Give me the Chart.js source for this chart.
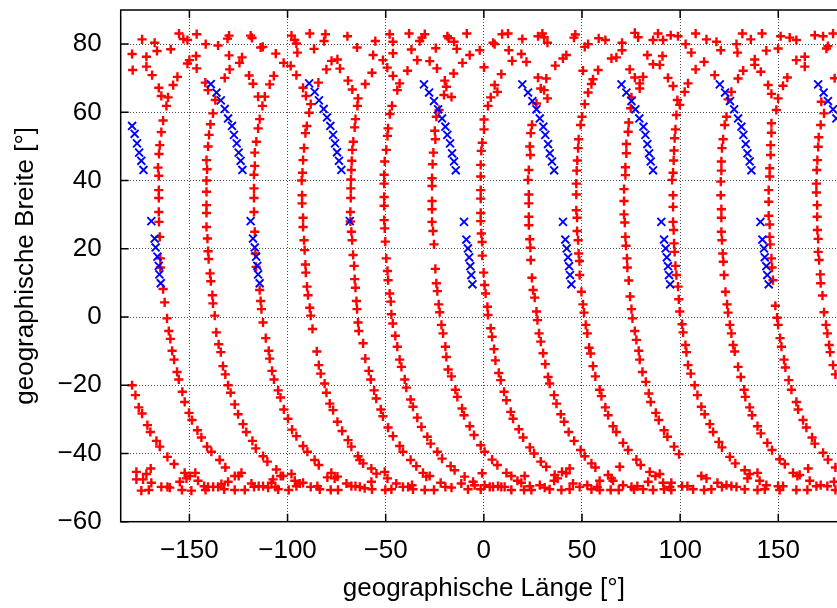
<!DOCTYPE html>
<html lang="de">
<head>
<meta charset="UTF-8">
<title>Bodenspur</title>
<script src="https://cdn.jsdelivr.net/npm/chart.js"></script>
<style>
    html, body { margin: 0; padding: 0; overflow: hidden; background: #fff; }
    #wrap { width: 837px; height: 608px; overflow: hidden; }
    canvas { display: block; }
</style>
</head>
<body>
<div id="wrap"><canvas id="track" width="870" height="608"></canvas></div>
<script>
// Achsen
const xTicks = [-150, -100, -50, 0, 50, 100, 150];
const yTicks = [-60, -40, -20, 0, 20, 40, 60, 80];

// rote Messpunkte [Länge, Breite], nördlicher Teil (40° bis 90°)
const redNorthW = [
  [-174.1,81.4],[-167.7,80.4],[-155.3,83.1],[-153.1,81.5],[-151.0,81.2],[-146.3,82.9],[-141.7,80.0],[-135.4,79.6],
  [-129.8,82.5],[-130.6,81.6],[-118.8,82.5],[-118.1,81.8],[-113.7,79.0],[-112.6,79.2],
  [-179.2,77.1],[-171.9,76.3],[-166.5,78.0],[-159.5,78.5],[-146.6,76.5],[-150.0,75.3],[-151.0,74.3],[-129.8,76.7],
  [-123.2,76.1],[-124.5,74.5],[-106.0,77.2],[-102.0,74.5],
  [-178.9,72.4],[-171.9,73.4],[-169.0,70.9],[-156.1,70.4],[-158.3,68.0],[-165.6,67.2],[-164.3,64.8],[-160.9,64.4],[-161.7,61.9],
  [-146.3,72.9],[-129.5,72.6],[-132.0,70.1],[-141.9,68.7],[-119.6,70.8],[-117.6,68.4],[-107.0,70.7],[-109.1,68.2],
  [-115.0,64.6],[-111.6,64.6],[-112.8,61.9],
  [-98.0,82.5],[-96.4,81.2],[-95.5,80.2],[-88.7,83.1],[-80.7,82.9],[-81.4,80.9],[-69.5,82.3],[-64.6,79.0],[-95.0,77.5],
  [-86.5,78.6],[-98.4,73.6],[-95.5,70.9],[-74.6,75.5],[-77.6,75.1],[-80.2,72.6],[-73.3,72.8],[-69.2,69.3],[-67.0,66.7],
  [-84.3,68.7],[-92.1,67.2],[-90.6,64.8],[-88.2,62.4],[-64.1,64.1],[-64.4,61.9],
  [-140.5,66.5],[-136.8,63.6],[-138.0,59.7],[-139.3,56.5],[-140.0,53.4],[-140.5,50.0],[-141.3,46.0],[-141.0,43.3],[-141.3,40.0],
  [-163.4,57.6],[-164.3,54.2],[-165.1,50.4],[-165.5,47.8],[-166.0,43.8],[-165.6,41.4],
  [-114.2,58.0],[-115.0,55.3],[-115.9,51.4],[-116.7,48.2],[-116.7,44.3],[-117.1,41.7],
  [-89.0,59.9],[-90.2,56.0],[-90.9,53.9],[-91.6,49.5],[-92.1,46.0],[-92.4,42.3],[-92.8,40.0],
  [-65.4,58.0],[-65.8,55.6],[-66.5,51.4],[-67.0,49.0],[-67.3,45.8],[-67.5,43.1],[-67.7,40.3]
];
const redNorthC = [
  [-55.3,80.9],[-48.0,82.9],[-46.3,80.7],[-38.1,83.1],[-30.1,82.9],[-31.5,81.9],[-32.7,80.9],[-18.6,82.3],[-17.9,81.7],
  [-15.2,80.7],[-13.8,78.6],[-8.7,83.1],[-24.5,78.8],[-36.9,78.4],[-46.3,77.3],[-56.4,76.8],[-51.4,75.3],[-49.2,73.1],
  [-33.9,75.3],[-27.6,75.0],[-23.9,72.9],[-7.2,76.8],[-10.9,74.5],[-15.4,71.4],[-2.1,78.2],[0.1,73.2],
  [-38.9,72.2],[-46.3,70.7],[-57.0,71.6],[-60.4,68.3],[-42.9,68.5],[-44.1,66.5],[-46.8,61.9],[-47.9,59.5],
  [-19.9,69.3],[-19.1,67.5],[-20.3,65.1],[-16.5,64.5],[-22.8,60.7],[-24.2,58.7],[-25.0,54.6],[-24.7,52.1],[-25.7,48.2],
  [-26.1,44.8],[-26.4,40.7],[-48.8,55.3],[-49.1,53.1],[-49.7,49.0],[-50.5,45.6],[-50.8,41.7],
  [4.7,80.4],[5.5,80.0],[9.3,82.9],[12.3,83.1],[19.6,81.5],[27.6,82.3],[29.8,83.1],[30.7,82.0],[32.4,80.4],[12.7,78.2],
  [19.1,77.1],[14.4,75.1],[21.7,74.8],[42.0,76.8],[40.3,75.8],[36.4,73.7],[46.6,82.8],[45.9,81.9],[53.1,80.0],[51.4,79.2],[58.5,81.7],
  [8.9,71.2],[5.5,68.0],[6.9,66.0],[3.5,64.4],[2.1,61.9],[0.1,57.9],[0.1,55.0],[-0.8,51.1],[-1.3,48.7],[-1.6,44.6],[-1.6,41.2],
  [27.6,70.2],[31.8,69.9],[29.0,67.0],[30.7,66.5],[32.4,64.1],[26.8,62.6],[24.5,56.3],[23.9,53.9],[23.4,50.0],[23.7,47.5],
  [22.9,43.1],[22.5,40.2],
  [50.5,72.2],[58.2,72.4],[55.6,69.7],[54.8,68.3],[53.1,65.8],[51.4,62.4],[50.0,58.7],[49.3,56.3],[48.3,52.1],[48.0,49.5],
  [47.6,45.9],[47.3,42.9]
];
const redNorthE = [
  [61.9,81.2],[70.4,80.4],[70.4,78.2],[76.9,83.3],[78.6,82.0],[86.2,81.2],[88.7,83.1],[91.3,81.2],[95.2,82.6],[98.9,82.3],
  [102.8,80.0],[107.9,83.1],[113.4,81.4],[118.5,80.7],[120.7,78.2],[128.7,80.0],[131.7,83.1],[136.0,81.4],[141.7,83.1],
  [143.9,78.1],[149.9,78.7],[151.2,82.3],[155.8,81.9],[159.2,81.2],[168.6,82.6],[172.8,82.3],[177.9,83.1],[175.3,79.4],[174.5,78.7],
  [65.0,75.8],[67.5,76.1],[83.3,76.8],[86.2,74.1],[89.6,73.9],[91.0,76.5],[74.3,72.6],[76.9,70.2],[81.1,70.4],[79.4,68.5],
  [79.4,67.0],[93.8,70.1],[96.4,67.7],[98.6,63.6],[99.8,62.2],[105.7,77.5],[112.2,74.8],[107.9,72.6],[104.0,68.5],[102.3,66.0],
  [117.6,70.9],[129.2,77.5],[138.0,75.5],[138.0,73.9],[132.1,72.2],[129.5,69.9],[141.1,71.9],[144.8,68.0],[146.5,65.4],
  [149.9,64.1],[149.0,60.7],[159.2,75.3],[163.5,76.3],[163.5,73.4],[154.6,70.2],[152.4,67.8],[178.7,70.0],
  [126.1,66.0],[124.4,63.8],[123.6,58.7],[122.7,56.3],[121.9,52.1],[121.3,49.5],[121.0,45.6],[121.0,42.9],[120.7,39.7],
  [75.2,64.4],[74.8,61.2],[73.8,57.0],[73.5,54.3],[72.6,50.7],[72.6,48.0],[72.1,43.9],[72.1,41.6],
  [98.1,59.2],[97.6,55.0],[97.2,52.4],[96.9,48.8],[96.7,45.9],[96.4,42.3],[95.9,40.2],
  [146.5,56.8],[146.5,54.0],[146.1,50.4],[146.1,47.5],[145.6,43.6],[145.6,41.2],
  [171.9,63.1],[173.3,59.7],[171.6,56.3],[170.6,52.7],[170.3,49.9],[169.9,46.0],[169.6,43.1]
];

// rote Messpunkte, mittlerer Teil (-10° bis 40°)
const redMidW = [
  [-165.6,37.2],[-165.6,34.9],[-165.6,30.8],[-165.5,27.9],[-165.1,23.5],[-164.8,17.2],[-164.8,14.5],[-163.4,8.2],
  [-162.6,4.3],[-161.4,-0.4],[-160.5,-4.1],[-159.7,-6.4],[-158.8,-9.9],
  [-141.3,36.7],[-141.3,32.8],[-141.3,30.5],[-141.3,26.4],[-140.8,23.0],[-140.5,19.3],[-140.2,17.0],[-139.5,12.8],
  [-139.1,10.5],[-138.3,6.4],[-138.0,4.0],[-137.1,0.4],[-136.3,-4.5],[-135.1,-8.0],[-134.0,-10.3],
  [-117.1,37.7],[-117.1,34.9],[-117.1,30.8],[-116.7,25.0],[-116.4,18.6],[-116.0,14.7],[-114.2,7.9],[-113.7,4.7],
  [-113.3,2.3],[-112.5,-1.6],[-111.1,-6.2],[-109.6,-9.9],
  [-92.6,35.7],[-92.6,33.3],[-92.1,29.1],[-92.1,26.4],[-91.6,22.5],[-91.3,19.6],[-90.9,15.4],[-90.7,13.0],[-90.1,8.9],
  [-89.6,6.4],[-88.7,2.7],[-88.2,0.4],[-87.3,-3.5],[-85.1,-10.1],
  [-67.8,37.7],[-67.8,34.9],[-68.0,30.8],[-68.0,28.0],[-67.5,25.0],[-67.1,22.5],[-66.6,18.2],[-66.1,15.0],[-65.8,11.1],
  [-65.4,8.6],[-64.9,4.7],[-64.6,2.3],[-64.1,-1.6],[-63.7,-4.1],[-61.5,-7.7]
];
const redMidC = [
  [-50.8,39.1],[-50.8,35.2],[-50.8,32.6],[-50.8,28.4],[-50.5,26.0],[-50.2,22.1],[-49.7,17.2],[-49.1,13.5],[-48.8,10.8],
  [-48.0,6.9],[-47.4,4.5],[-47.1,0.8],[-46.4,-1.9],[-45.1,-5.5],[-44.1,-8.7],
  [-26.4,38.4],[-26.4,34.0],[-26.4,31.6],[-26.4,27.9],[-25.9,25.2],[-25.4,21.3],[-24.7,14.1],[-24.2,9.9],[-23.7,7.6],
  [-23.0,3.7],[-22.5,1.4],[-21.6,-2.3],[-20.8,-4.8],[-19.6,-8.7],
  [-1.6,37.2],[-1.6,34.7],[-1.6,30.5],[-1.6,28.1],[-1.3,24.5],[-0.9,22.0],[-0.8,18.0],[-0.1,13.0],[0.4,9.4],[0.9,6.9],
  [1.8,3.0],[2.1,0.6],[3.5,-3.3],[4.2,-5.8],[5.2,-9.4],
  [22.9,35.9],[22.9,33.3],[22.9,29.4],[22.9,26.9],[23.4,22.8],[23.7,20.3],[23.9,16.7],[24.5,11.5],[25.1,7.9],[25.9,5.7],
  [26.8,1.6],[27.3,-0.9],[28.1,-4.8],[29.0,-7.2],[30.2,-10.6],
  [47.1,39.1],[47.1,35.9],[47.1,31.3],[47.5,29.1],[47.5,25.2],[48.0,22.5],[48.3,18.6],[48.7,16.4],[48.8,12.3],[49.7,7.4],
  [50.5,3.7],[51.0,1.3],[51.9,-2.3],[52.7,-4.8],[53.6,-9.0]
];
const redMidE = [
  [71.4,37.5],[71.4,34.0],[71.4,30.1],[71.8,27.7],[72.1,23.5],[72.4,20.9],[72.9,17.2],[73.1,14.5],[73.8,10.7],[74.5,6.0],
  [75.2,2.3],[75.7,-0.4],[76.9,-4.1],[77.7,-6.7],[78.9,-9.9],
  [96.4,35.7],[96.4,32.3],[96.4,27.9],[96.7,25.5],[96.9,21.6],[97.2,19.1],[97.6,15.0],[98.1,12.3],[98.9,8.9],[99.3,5.2],[99.8,1.6],
  [101.0,-2.1],[101.5,-4.5],[102.7,-8.2],[103.2,-10.3],
  [120.7,35.7],[121.0,31.6],[121.0,29.1],[121.0,25.0],[121.3,22.5],[121.7,18.6],[122.0,16.2],[122.4,12.3],[123.1,7.4],
  [123.9,3.7],[124.4,1.3],[125.3,-2.3],[126.1,-4.8],[127.0,-8.2],[127.8,-10.1],
  [145.1,37.2],[145.1,33.8],[145.1,29.7],[145.6,27.1],[145.6,23.5],[145.9,21.3],[146.5,17.2],[146.8,14.5],[147.3,10.8],
  [148.5,3.3],[149.4,-0.2],[149.9,-2.3],[150.9,-6.2],[151.6,-8.7],
  [169.4,39.1],[169.4,36.5],[169.8,32.8],[169.8,29.4],[169.9,25.5],[170.3,22.9],[170.3,19.1],[170.8,16.7],[171.4,12.5],
  [171.6,9.9],[172.5,6.3],[173.3,1.4],[174.3,-2.3],[175.0,-4.8],[175.9,-8.2],[176.4,-10.3]
];

// rote Messpunkte, südlicher Teil (-52° bis -10°)
const redSouthW = [
  [-179.2,-20.0],[-177.5,-22.9],[-175.8,-26.5],[-174.1,-28.3],[-171.4,-31.7],[-169.9,-33.7],[-166.8,-36.3],[-165.1,-38.0],
  [-161.2,-41.0],[-157.8,-43.1],
  [-157.8,-12.5],[-156.3,-16.1],[-155.4,-18.3],[-153.6,-21.9],[-152.4,-24.9],[-150.2,-28.1],[-148.7,-30.2],[-145.9,-33.2],
  [-143.9,-35.3],[-141.0,-38.0],[-138.8,-39.5],[-134.6,-41.9],[-131.7,-44.1],
  [-132.9,-14.4],[-131.7,-16.8],[-130.3,-20.0],[-129.0,-22.2],[-126.9,-25.6],[-125.2,-28.5],[-122.7,-31.4],[-121.0,-33.7],
  [-117.9,-36.3],[-116.2,-38.5],[-112.5,-40.8],[-110.3,-42.4],[-105.7,-44.7],[-103.5,-46.6],
  [-109.1,-12.2],[-107.9,-15.8],[-106.9,-18.3],[-104.8,-21.5],[-103.6,-23.6],[-101.9,-27.1],[-99.8,-29.8],[-97.7,-33.0],
  [-95.5,-34.9],[-92.1,-37.8],[-89.9,-39.5],[-86.2,-41.9],[-84.1,-43.4],
  [-84.1,-14.1],[-83.1,-16.6],[-81.1,-19.5],[-80.2,-22.2],[-78.5,-25.4],[-76.8,-27.3],[-74.6,-30.7],[-72.2,-33.4],
  [-69.2,-36.1],[-67.5,-38.0],[-64.1,-40.8],[-63.2,-41.9],[-61.5,-42.9]
];
const redBandW = [
  [-177.0,-45.4],[-177.0,-47.6],[-173.6,-47.6],[-171.9,-46.0],[-169.7,-44.4],[-169.4,-48.6],[-174.5,-50.9],[-170.7,-50.7],
  [-164.3,-49.8],[-161.2,-49.8],[-160.0,-50.0],[-154.9,-48.3],[-153.8,-50.7],[-152.4,-45.7],[-151.5,-47.3],[-149.8,-46.6],
  [-149.0,-50.9],[-147.0,-45.7],[-145.6,-48.0],[-142.5,-49.6],[-141.8,-50.7],[-140.5,-49.8],[-137.9,-49.8],[-135.4,-49.8],
  [-133.7,-49.0],[-132.3,-50.5],[-130.3,-48.3],[-126.9,-50.7],[-126.9,-46.6],[-124.9,-46.6],[-123.5,-45.7],[-121.8,-50.7],
  [-118.4,-48.8],[-117.1,-49.8],[-114.7,-49.6],[-112.5,-49.6],[-109.9,-50.0],[-108.2,-48.6],[-107.4,-47.6],[-106.2,-49.8],
  [-104.8,-50.5],[-102.3,-46.6],[-99.4,-50.7],[-98.0,-46.0],[-96.3,-48.0],[-95.5,-49.6],[-93.8,-48.8],[-92.1,-48.6],
  [-88.2,-49.8],[-84.8,-49.6],[-83.6,-50.5],[-79.7,-47.0],[-77.7,-45.7],[-76.0,-47.3],[-74.6,-46.8],[-78.0,-50.7],
  [-74.3,-50.7],[-70.0,-48.8],[-67.5,-49.6],[-65.4,-49.6],[-63.2,-49.8]
];
const redSouthC = [
  [-60.4,-12.2],[-58.6,-15.8],[-57.6,-18.3],[-55.9,-21.5],[-54.8,-23.9],[-52.5,-27.1],[-51.4,-29.1],[-48.8,-32.4],
  [-46.3,-34.9],[-42.9,-37.8],[-41.2,-39.5],[-37.3,-41.9],[-34.4,-43.7],
  [-42.9,-12.5],[-42.0,-14.6],[-40.3,-18.3],[-39.5,-20.7],[-37.3,-24.2],[-36.1,-26.3],[-33.9,-29.5],[-31.8,-32.2],
  [-28.8,-35.1],[-27.1,-37.1],[-23.7,-39.5],[-21.3,-41.5],[-16.9,-43.7],[-14.9,-44.9],
  [-19.1,-11.7],[-18.2,-15.4],[-16.5,-17.4],[-14.5,-21.3],[-13.5,-23.4],[-11.1,-26.8],[-10.1,-28.8],[-7.2,-32.0],
  [-5.0,-34.6],[-1.6,-37.6],[0.4,-39.5],[4.2,-41.8],[6.9,-43.4],[11.5,-45.7],
  [5.9,-12.7],[7.6,-16.4],[8.6,-18.5],[10.3,-21.9],[11.5,-24.4],[13.7,-27.8],[14.9,-29.8],[17.8,-32.9],[20.0,-35.3],
  [23.4,-38.2],[25.6,-40.0],[29.0,-42.4],[31.8,-43.9],
  [31.3,-13.8],[32.7,-17.6],[33.5,-19.5],[35.8,-22.9],[37.0,-25.4],[39.2,-28.5],[40.9,-30.7],[43.2,-33.7],[46.0,-36.3],
  [49.3,-39.0],[51.4,-40.8],[54.8,-42.9],[56.8,-44.1],
  [54.4,-10.7],[55.6,-14.4],[56.8,-17.4]
];
const redBandC = [
  [-57.3,-44.4],[-54.7,-45.9],[-57.3,-48.3],[-60.7,-50.2],[-57.0,-50.5],[-50.5,-45.4],[-49.1,-47.3],[-50.2,-50.7],
  [-47.1,-50.5],[-44.6,-48.8],[-41.2,-49.8],[-38.6,-49.8],[-36.6,-49.3],[-36.1,-50.5],[-31.0,-45.7],[-29.3,-46.8],
  [-27.6,-46.6],[-30.1,-50.7],[-25.4,-50.7],[-22.0,-48.6],[-19.6,-49.8],[-16.5,-50.0],[-11.5,-48.8],[-9.8,-46.8],
  [-8.1,-50.5],[-5.5,-48.3],[-4.7,-49.3],[-0.9,-45.8],[-1.6,-50.5],[0.4,-49.3],[3.0,-49.8],[4.7,-49.8],[7.2,-49.6],
  [8.9,-49.8],[10.6,-49.8],[14.0,-50.7],[14.0,-46.6],[17.1,-48.0],[19.1,-48.6],[20.8,-46.6],[20.5,-50.7],[23.4,-49.6],
  [24.2,-50.7],[28.5,-49.3],[31.0,-50.0],[33.5,-50.5],[36.1,-46.3],[37.5,-47.3],[39.8,-45.4],[42.0,-45.8],[43.7,-44.4],
  [35.8,-48.0],[39.5,-50.7],[43.7,-50.5],[45.4,-48.8],[48.8,-49.8],[52.7,-49.3],[54.8,-50.5],[57.8,-49.8]
];
const redSouthE = [
  [59.0,-21.3],[59.9,-23.2],[61.9,-26.5],[63.3,-28.8],[65.8,-32.0],[67.5,-33.7],[70.9,-36.9],[73.5,-39.0],[77.7,-41.8],[79.9,-43.4],
  [79.4,-12.5],[80.8,-16.1],[82.5,-19.0],[84.0,-22.4],[85.0,-24.9],[87.6,-28.1],[89.1,-30.2],[91.8,-33.2],[93.5,-35.1],
  [96.9,-38.0],[99.4,-40.2],
  [104.0,-14.1],[105.4,-16.6],[107.4,-20.0],[108.8,-22.9],[110.8,-26.3],[112.5,-28.5],[115.1,-31.4],[116.8,-33.7],
  [119.7,-36.6],[121.3,-38.2],[125.3,-41.0],[128.1,-42.9],[132.9,-44.9],
  [129.5,-14.6],[130.9,-17.6],[132.6,-21.3],[133.2,-23.4],[135.4,-26.5],[136.6,-28.8],[139.4,-32.0],[141.1,-34.1],
  [144.4,-36.9],[146.8,-39.0],[150.7,-41.7],[153.3,-43.1],
  [152.9,-12.5],[153.6,-14.8],[155.3,-18.5],[156.7,-21.3],[159.2,-24.9],[160.1,-27.1],[162.6,-30.2],[164.3,-32.4],
  [167.2,-35.3],[168.6,-37.1],[172.8,-39.8],[175.3,-41.8],[179.1,-44.1],
  [177.9,-14.1],[179.1,-16.8]
];
const redBandE = [
  [59.0,-48.0],[59.0,-50.7],[63.3,-46.3],[65.0,-47.3],[65.8,-48.0],[64.6,-50.7],[69.2,-43.9],[70.9,-49.3],[68.7,-50.7],
  [75.2,-49.8],[78.2,-49.6],[76.5,-50.5],[81.1,-50.5],[83.7,-48.3],[84.5,-45.4],[86.2,-50.7],[87.4,-46.6],[89.6,-46.0],
  [91.3,-48.6],[91.8,-50.5],[94.7,-49.8],[95.5,-50.7],[95.5,-48.6],[101.0,-49.6],[103.7,-49.6],[106.6,-50.5],[110.8,-46.6],
  [113.4,-47.3],[112.2,-50.7],[115.9,-50.5],[119.0,-48.6],[121.3,-49.8],[123.6,-49.3],[126.1,-49.6],[128.7,-49.8],
  [132.9,-50.5],[135.4,-46.0],[134.3,-47.3],[139.4,-45.7],[140.5,-48.0],[139.4,-50.7],[143.1,-50.5],[143.9,-49.3],
  [149.9,-49.6],[150.7,-50.7],[152.4,-49.6],[157.5,-45.7],[159.7,-46.6],[160.9,-46.3],[159.2,-50.7],[165.2,-44.4],
  [164.8,-50.7],[166.0,-48.0],[169.4,-49.6],[171.6,-49.3],[175.0,-49.6],[178.4,-48.3],[179.1,-50.7]
];

// blaue Messpunkte
const blueNorth = [
  [-179.2,56.0],[-177.9,53.7],[-176.7,50.9],[-175.6,48.2],[-174.5,45.8],[-173.4,43.1],
  [-139.1,68.3],[-136.2,65.8],[-134.0,63.5],[-132.0,61.0],[-130.3,58.2],[-128.3,56.0],[-127.3,53.4],[-125.9,50.9],
  [-124.9,48.2],[-123.9,45.8],[-123.0,43.1],
  [-89.0,68.5],[-86.2,66.0],[-84.0,63.5],[-81.6,61.0],[-79.9,58.5],[-78.2,56.0],[-76.8,53.4],[-75.8,50.9],[-74.8,48.3],
  [-73.8,45.8],[-72.6,43.1],
  [-30.5,68.2],[-27.9,65.8],[-25.4,63.3],[-23.3,60.9],[-21.3,58.2],[-19.6,55.8],[-18.6,53.4],[-17.2,50.9],[-16.2,48.0],
  [-15.2,45.6],[-14.3,43.0],
  [19.6,68.2],[22.5,65.8],[24.7,63.3],[26.8,60.9],[28.5,58.2],[30.3,55.8],[31.3,53.4],[32.7,50.7],[33.6,48.0],[34.7,45.6],[35.8,43.0],
  [70.1,68.2],[72.6,65.8],[75.2,63.3],[77.2,60.9],[79.2,58.2],[81.3,55.8],[82.3,53.4],[83.3,50.7],[84.2,48.0],[85.0,45.6],[86.2,43.0],
  [120.2,68.2],[122.9,65.8],[125.4,63.3],[127.5,60.9],[129.5,58.2],[131.2,55.8],[132.2,53.4],[133.4,50.7],[134.3,48.0],
  [135.4,45.6],[136.3,43.0],
  [170.3,68.2],[173.1,65.8],[175.3,63.3],[177.9,60.9],[179.6,58.2]
];
const blueSouth = [
  [-169.4,28.1],[-167.7,23.0],[-167.2,20.4],[-166.3,17.7],[-165.6,15.0],[-165.3,12.5],[-164.6,9.9],
  [-118.8,28.1],[-117.6,23.0],[-116.7,20.4],[-116.0,17.7],[-115.4,15.0],[-115.0,12.5],[-114.2,9.9],
  [-68.3,28.1],
  [-10.1,27.9],[-8.9,22.7],[-8.1,20.1],[-7.5,17.5],[-6.9,14.9],[-6.4,12.3],[-5.8,9.6],
  [40.3,27.9],[41.5,22.7],[42.2,20.1],[42.9,17.5],[43.4,14.9],[43.9,12.3],[44.6,9.6],
  [90.4,27.9],[91.8,22.7],[92.6,20.1],[93.2,17.5],[93.8,14.9],[94.3,12.3],[94.9,9.6],
  [140.9,27.9],[141.9,22.7],[142.7,20.1],[143.1,17.5],[143.9,14.9],[144.4,12.3],[145.1,9.6]
];

const FONT = { family: '"Liberation Sans", Arial, Helvetica, sans-serif', size: 26 };

function pts(list) {
    return list.map(([x, y]) => ({ x, y }));
}

function redSet(list) {
    return {
        data: pts(list),
        pointStyle: 'cross',
        pointRadius: 4.6,
        pointBorderWidth: 2.4,
        borderColor: '#ff0000',
        backgroundColor: '#ff0000',
        showLine: false
    };
}

function blueSet(list) {
    return {
        data: pts(list),
        pointStyle: 'crossRot',
        pointRadius: 5.6,
        pointBorderWidth: 1.9,
        borderColor: '#0000ff',
        backgroundColor: '#0000ff',
        showLine: false
    };
}

function minus(v) {
    return v < 0 ? '\u2212' + Math.abs(v) : String(v);
}

// Rahmen mit nach innen zeigenden Teilstrichen
const frame = {
    id: 'frame',
    afterDatasetsDraw(chart) {
        const { ctx, chartArea: a, scales: { x, y } } = chart;
        ctx.save();
        ctx.strokeStyle = '#000';
        ctx.lineWidth = 1.5;
        ctx.strokeRect(a.left, a.top, a.right - a.left, a.bottom - a.top);
        ctx.beginPath();
        x.ticks.forEach(t => {
            const px = x.getPixelForValue(t.value);
            ctx.moveTo(px, a.bottom); ctx.lineTo(px, a.bottom - 8);
            ctx.moveTo(px, a.top); ctx.lineTo(px, a.top + 8);
        });
        y.ticks.forEach(t => {
            const py = y.getPixelForValue(t.value);
            ctx.moveTo(a.left, py); ctx.lineTo(a.left + 8, py);
            ctx.moveTo(a.right, py); ctx.lineTo(a.right - 8, py);
        });
        ctx.stroke();
        ctx.restore();
    }
};

new Chart(document.getElementById('track'), {
    type: 'scatter',
    data: {
        datasets: [
            blueSet(blueNorth), blueSet(blueSouth),
            redSet(redNorthW), redSet(redNorthC), redSet(redNorthE),
            redSet(redMidW), redSet(redMidC), redSet(redMidE),
            redSet(redSouthW), redSet(redSouthC), redSet(redSouthE),
            redSet(redBandW), redSet(redBandC), redSet(redBandE)
        ]
    },
    options: {
        responsive: false,
        animation: false,
        events: [],
        layout: { padding: { left: 0, right: 23, top: 10, bottom: 0 } },
        plugins: { legend: { display: false }, tooltip: { enabled: false } },
        scales: {
            x: {
                type: 'linear',
                min: -185,
                max: 185,
                afterBuildTicks: s => { s.ticks = xTicks.map(v => ({ value: v })); },
                afterFit: s => { s.height = 86.3; s.paddingLeft = 0; s.paddingRight = 0; },
                grid: { color: 'rgba(0,0,0,0.7)', lineWidth: 1, drawTicks: false },
                border: { display: false, dash: [1, 2] },
                ticks: { color: '#000', font: FONT, padding: 14, maxRotation: 0, callback: minus },
                title: {
                    display: true,
                    text: 'geographische Länge [°]',
                    color: '#000',
                    font: FONT,
                    padding: { top: 0, bottom: 4 }
                }
            },
            y: {
                type: 'linear',
                min: -60,
                max: 90,
                afterBuildTicks: s => { s.ticks = yTicks.map(v => ({ value: v })); },
                afterFit: s => { s.width = 120.7; s.paddingTop = 0; s.paddingBottom = 0; },
                grid: { color: 'rgba(0,0,0,0.7)', lineWidth: 1, drawTicks: false },
                border: { display: false, dash: [1, 2] },
                ticks: { color: '#000', font: FONT, padding: 19, callback: minus },
                title: {
                    display: true,
                    text: 'geographische Breite [°]',
                    color: '#000',
                    font: FONT,
                    padding: { top: 10, bottom: 0 }
                }
            }
        }
    },
    plugins: [frame]
});
</script>
</body>
</html>
